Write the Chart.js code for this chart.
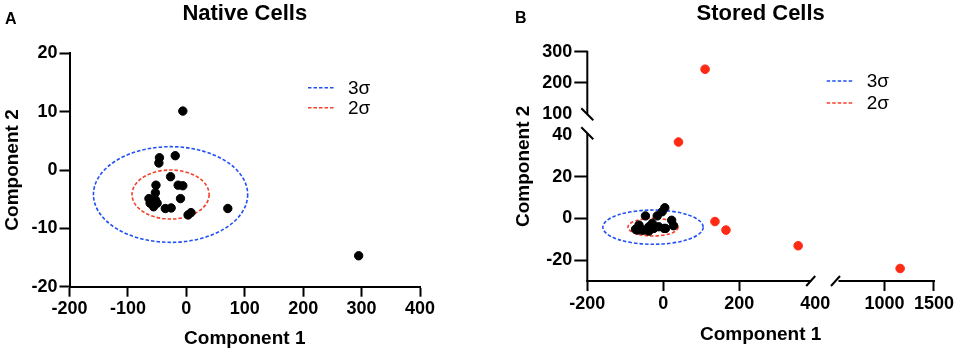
<!DOCTYPE html>
<html>
<head>
<meta charset="utf-8">
<script src="https://cdn.jsdelivr.net/npm/chart.js@4.4.1/dist/chart.umd.min.js"></script>
<style>
  html, body { margin: 0; padding: 0; background: #fff; }
  .wrap { position: absolute; top: 0; height: 353px; }
  #wa { left: 0; width: 478px; }
  #wb { left: 478px; width: 479px; }
</style>
</head>
<body>
<div class="wrap" id="wa"><canvas id="chartA"></canvas></div>
<div class="wrap" id="wb"><canvas id="chartB"></canvas></div>
<script>
// Native cells
const nativeX = [-6, -46, -47, -19, -27, -14, -6, -10, -52, -53, -64, -62, -56, -50, -53, -36, -26, 3, 8, 71, 295];
const nativeY = [10.1, 2.1, 1.2, 2.45, -1.15, -2.6, -2.7, -4.9, -2.6, -3.9, -4.9, -5.7, -6.3, -5.7, -5.1, -6.6, -6.5, -7.7, -7.3, -6.6, -14.7];

// Stored cells, inside the ellipses
const storedX = [4, -3, -47, -16, 22, 27, -64, -73, -38, -25, 6, -55, -12, -38, -68, -29, 2, -50];
const storedY = [5.1, 3.2, 1.2, 1.2, -0.9, -3.5, -3.2, -5.2, -4, -4.8, -4.8, -5.6, -4, -6.1, -5.6, -2.4, -4.8, -5.6];

// Stored cells, outliers (red)
const outlierX = [40, 136, 165, 355];
const outlierY = [36.6, -1.5, -5.6, -13.1];
const outlierHighX = [110];     // on upper y segment
const outlierHighY = [244];
const outlierFarX = [1158];     // on right x segment
const outlierFarY = [-24];

// sigma ellipses (same in both panels)
const ellipseCenter = [-27, -4.2];
const ellipse3Radii = [132, 8.2];
const ellipse2Radii = [66, 4.2];

// tick labels
const ticksAX = [-200, -100, 0, 100, 200, 300, 400];
const ticksAY = [-20, -10, 0, 10, 20];
const ticksBYlow = [-20, 0, 20, 40];
const ticksBYhigh = [100, 200, 300];
const ticksBXleft = [-200, 0, 200, 400];
const ticksBXright = [1000, 1500];

const legendLabels = ['3σ', '2σ'];

const FONT = '"Liberation Sans", Arial, Helvetica, sans-serif';
const BLUE = '#2150f5';
const RED = '#f5402a';
const DOT_RED = '#ff2a14';

Chart.defaults.font.family = FONT;
Chart.defaults.color = '#000';

function pts(xs, ys) {
    return xs.map((x, i) => ({x: x, y: ys[i]}));
}
function setTicks(list) {
    return function (s) { s.ticks = list.map(v => ({value: v})); };
}
// no tick mark where the axis is broken
function hideTickAt(v) {
    return function (c) { return c.tick && c.tick.value === v ? 'rgba(0,0,0,0)' : '#000'; };
}
function axis(min, max, list, tickLen, extra) {
    const o = {
        type: 'linear',
        min: min,
        max: max,
        afterBuildTicks: setTicks(list),
        grid: { display: true, drawOnChartArea: false, drawTicks: true, tickLength: tickLen, tickWidth: 2, tickColor: '#000' },
        border: { display: true, color: '#000', width: 2 },
        ticks: { color: '#000', autoSkip: false, maxRotation: 0, padding: 2, font: { size: 18, weight: 'bold' },
                 callback: function (v) { return String(v); } }
    };
    return Object.assign(o, extra);
}
function brokenGrid(tickLen, v) {
    return { display: true, drawOnChartArea: false, drawTicks: true, tickLength: tickLen, tickWidth: 2, tickColor: hideTickAt(v) };
}

function drawEllipses(chart, xs, ys) {
    const ctx = chart.ctx;
    const cx = xs.getPixelForValue(ellipseCenter[0]);
    const cy = ys.getPixelForValue(ellipseCenter[1]);
    [[ellipse3Radii, BLUE], [ellipse2Radii, RED]].forEach(function (e) {
        const rx = Math.abs(xs.getPixelForValue(ellipseCenter[0] + e[0][0]) - cx);
        const ry = Math.abs(ys.getPixelForValue(ellipseCenter[1] + e[0][1]) - cy);
        ctx.save();
        ctx.strokeStyle = e[1];
        ctx.lineWidth = 1.6;
        ctx.setLineDash([3.5, 2]);
        ctx.beginPath();
        ctx.ellipse(cx, cy, rx, ry, 0, 0, Math.PI * 2);
        ctx.stroke();
        ctx.restore();
    });
}

function drawLegend(ctx, x, y) {
    [BLUE, RED].forEach(function (c, i) {
        const yy = y[i];
        ctx.save();
        ctx.strokeStyle = c;
        ctx.lineWidth = 1.6;
        ctx.setLineDash([3.5, 2]);
        ctx.beginPath();
        ctx.moveTo(x, yy);
        ctx.lineTo(x + 26, yy);
        ctx.stroke();
        ctx.restore();
        ctx.fillStyle = '#000';
        ctx.font = '19px ' + FONT;
        ctx.textAlign = 'left';
        ctx.textBaseline = 'middle';
        ctx.fillText(legendLabels[i], x + 40, yy + 1);
    });
}

function drawHeader(ctx, title, tx, letter, lx, ly) {
    ctx.fillStyle = '#000';
    ctx.textAlign = 'center';
    ctx.textBaseline = 'middle';
    ctx.font = 'bold 22px ' + FONT;
    ctx.fillText(title, tx, 14);
    ctx.textAlign = 'left';
    ctx.font = 'bold 16px ' + FONT;
    ctx.fillText(letter, lx, ly);
}

// Panel A
new Chart(document.getElementById('chartA'), {
    type: 'scatter',
    data: {
        datasets: [{
            label: 'Native',
            data: pts(nativeX, nativeY),
            backgroundColor: '#000',
            borderColor: '#000',
            pointRadius: 4.2,
            pointHoverRadius: 4.2
        }]
    },
    options: {
        responsive: true,
        maintainAspectRatio: false,
        animation: false,
        events: [],
        layout: { padding: { left: 0, right: 58, top: 53.3, bottom: 0 } },
        plugins: { legend: { display: false }, tooltip: { enabled: false } },
        scales: {
            x: axis(-200, 400, ticksAX, 10, {
                position: 'bottom',
                title: { display: true, text: 'Component 1', font: { size: 19, weight: 'bold' }, padding: { top: 0, bottom: 3 } },
                afterFit: function (s) { s.height = 66.3; }
            }),
            y: axis(-20, 20, ticksAY, 10, {
                position: 'left',
                title: { display: true, text: 'Component 2', font: { size: 19, weight: 'bold' }, padding: { top: 1, bottom: 0 } },
                afterFit: function (s) { s.width = 69.5; }
            })
        }
    },
    plugins: [{
        id: 'decoA',
        beforeDatasetsDraw: function (chart) {
            drawEllipses(chart, chart.scales.x, chart.scales.y);
        },
        afterDraw: function (chart) {
            const ctx = chart.ctx;
            drawHeader(ctx, 'Native Cells', (chart.chartArea.left + chart.chartArea.right) / 2, 'A', 5, 20);
            drawLegend(ctx, 308, [87.7, 107.7]);
        }
    }]
});

// Panel B (broken axes: two stacked x scales, two stacked y scales)
// left boxes are placed in reverse order, so the lower y scale is listed first
const noBorder = { display: false };
new Chart(document.getElementById('chartB'), {
    type: 'scatter',
    data: {
        datasets: [{
            label: 'Stored',
            data: pts(storedX, storedY),
            xAxisID: 'x', yAxisID: 'y',
            backgroundColor: '#000', borderColor: '#000',
            pointRadius: 4.2, pointHoverRadius: 4.2
        }, {
            label: 'Outliers',
            data: pts(outlierX, outlierY),
            xAxisID: 'x', yAxisID: 'y',
            backgroundColor: DOT_RED, borderColor: DOT_RED,
            pointRadius: 4.3, pointHoverRadius: 4.3
        }, {
            label: 'Outliers high',
            data: pts(outlierHighX, outlierHighY),
            xAxisID: 'x', yAxisID: 'y2',
            backgroundColor: DOT_RED, borderColor: DOT_RED,
            pointRadius: 4.3, pointHoverRadius: 4.3
        }, {
            label: 'Outliers far',
            data: pts(outlierFarX, outlierFarY),
            xAxisID: 'x2', yAxisID: 'y',
            backgroundColor: DOT_RED, borderColor: DOT_RED,
            pointRadius: 4.3, pointHoverRadius: 4.3
        }]
    },
    options: {
        responsive: true,
        maintainAspectRatio: false,
        animation: false,
        events: [],
        layout: { padding: { left: 0, right: 23, top: 51.7, bottom: 0 } },
        plugins: { legend: { display: false }, tooltip: { enabled: false } },
        scales: {
            y: axis(-30, 45, ticksBYlow, 13, {
                position: 'left', stack: 'v', stackWeight: 156.5,
                border: noBorder,
                grid: brokenGrid(13, 40),
                afterFit: function (s) { s.width = 109.3; }
            }),
            y2: axis(67.4, 300, ticksBYhigh, 13, {
                position: 'left', stack: 'v', stackWeight: 72.8,
                border: noBorder,
                grid: brokenGrid(13, 100),
                afterFit: function (s) { s.width = 109.3; }
            }),
            x: axis(-200, 423, ticksBXleft, 10, {
                position: 'bottom', stack: 'h', stackWeight: 236.7,
                border: noBorder,
                grid: brokenGrid(10, 400),
                afterFit: function (s) { s.height = 72; }
            }),
            x2: axis(389, 1500, ticksBXright, 10, {
                position: 'bottom', stack: 'h', stackWeight: 110,
                border: noBorder,
                afterFit: function (s) { s.height = 72; }
            })
        }
    },
    plugins: [{
        id: 'decoB',
        beforeDatasetsDraw: function (chart) {
            drawEllipses(chart, chart.scales.x, chart.scales.y);
        },
        afterDraw: function (chart) {
            const ctx = chart.ctx;
            const sx = chart.scales.x, sx2 = chart.scales.x2, sy = chart.scales.y, sy2 = chart.scales.y2;
            const xa = chart.chartArea.left, ya = chart.chartArea.bottom;
            ctx.save();
            ctx.strokeStyle = '#000';
            ctx.lineWidth = 2;
            ctx.lineCap = 'butt';
            function seg(x1, y1, x2, y2) {
                ctx.beginPath(); ctx.moveTo(x1, y1); ctx.lineTo(x2, y2); ctx.stroke();
            }
            // y axis, two pieces
            const yTop = sy2.getPixelForValue(300), yBrk1 = sy2.getPixelForValue(100);
            const yBrk2 = sy.getPixelForValue(40.8);
            seg(xa, yTop - 1, xa, yBrk1);
            seg(xa, yBrk2, xa, ya + 1);
            seg(xa - 6, yBrk1 - 6, xa + 6, yBrk1 + 6);
            seg(xa - 6, yBrk2 - 6, xa + 6, yBrk2 + 6);
            // x axis, two pieces
            const xBrk1 = sx.getPixelForValue(388), xBrk2 = sx2.getPixelForValue(505);
            const xEnd = sx2.getPixelForValue(1500);
            seg(xa - 1, ya, xBrk1, ya);
            seg(xBrk2 + 3, ya, xEnd + 1, ya);
            seg(xBrk1 - 4.5, ya + 5, xBrk1 + 4.5, ya - 5);
            seg(xBrk2 - 4.5, ya + 5, xBrk2 + 4.5, ya - 5);
            ctx.restore();

            // axis titles
            ctx.save();
            ctx.fillStyle = '#000';
            ctx.font = 'bold 19px ' + FONT;
            ctx.textAlign = 'center';
            ctx.textBaseline = 'middle';
            ctx.fillText('Component 1', (xa + xEnd) / 2, 335);
            ctx.translate(45.3, (yTop + ya) / 2);
            ctx.rotate(-Math.PI / 2);
            ctx.fillText('Component 2', 0, 0);
            ctx.restore();

            drawHeader(ctx, 'Stored Cells', (xa + xEnd) / 2, 'B', 37, 18.5);
            drawLegend(ctx, 348.7, [81, 103]);
        }
    }]
});
</script>
</body>
</html>
